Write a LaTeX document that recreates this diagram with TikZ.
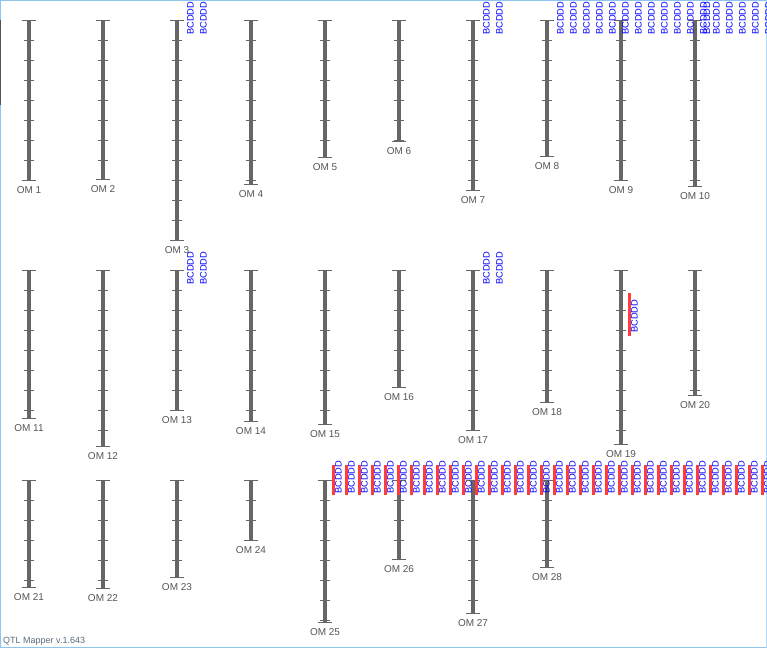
\documentclass[tikz,border=0pt]{standalone}
\usepackage{fontspec}
\setmainfont{Liberation Sans}

\definecolor{chromgray}{HTML}{666666}
\definecolor{textgray}{HTML}{555555}
\definecolor{qtlblue}{HTML}{0000FF}
\definecolor{qtlred}{HTML}{FF3B3B}
\definecolor{framecol}{HTML}{8CC6EE}
\definecolor{mappercol}{HTML}{5B6B7B}

\tikzset{
  chrombar/.style={draw=chromgray, line width=4pt},
  chromcap/.style={draw=chromgray, line width=1pt},
  chromtick/.style={draw=chromgray, line width=1pt},
  omlabel/.style={text=textgray, font=\fontsize{10}{12}\selectfont, inner sep=0pt},
  qtllabel/.style={text=qtlblue, font=\fontsize{9.3}{10}\selectfont, rotate=90, anchor=west, inner sep=0pt},
  qtlbar/.style={draw=qtlred, line width=3pt}
}

% name, text, x, top, bottom
\newcommand{\chrom}[5]{%
  \draw[chrombar] (#3,#4) -- (#3,#5);
  \draw[chromcap] (#3-7,#4) -- (#3+7,#4);
  \draw[chromcap] (#3-7,#5) -- (#3+7,#5);
  \pgfmathtruncatemacro{\nticks}{(#5-#4-1)/20}
  \foreach \k in {1,...,\nticks} \draw[chromtick] (#3-5,#4+20*\k) -- (#3+5,#4+20*\k);
  \node[omlabel] (#1) at (#3,#5+10) {#2};
}

\begin{document}
\begin{tikzpicture}[x=1pt, y=-1pt]
\useasboundingbox (0,0) rectangle (767,648);
\clip (0,0) rectangle (766.5,648);
\draw [framecol, line width=1pt] (0.5,0.5) rectangle (766,647.5);
\draw [textgray, line width=1pt] (0.5,20) -- (0.5,105);

\chrom{om1}{OM 1}{29}{20}{180}
\chrom{om2}{OM 2}{103}{20}{179}
\chrom{om3}{OM 3}{177}{20}{240}
\chrom{om4}{OM 4}{251}{20}{184}
\chrom{om5}{OM 5}{325}{20}{157}
\chrom{om6}{OM 6}{399}{20}{141}
\chrom{om7}{OM 7}{473}{20}{190}
\chrom{om8}{OM 8}{547}{20}{156}
\chrom{om9}{OM 9}{621}{20}{180}
\chrom{om10}{OM 10}{695}{20}{186}

\chrom{om11}{OM 11}{29}{270}{418}
\chrom{om12}{OM 12}{103}{270}{446}
\chrom{om13}{OM 13}{177}{270}{410}
\chrom{om14}{OM 14}{251}{270}{421}
\chrom{om15}{OM 15}{325}{270}{424}
\chrom{om16}{OM 16}{399}{270}{387}
\chrom{om17}{OM 17}{473}{270}{430}
\chrom{om18}{OM 18}{547}{270}{402}
\chrom{om19}{OM 19}{621}{270}{444}
\chrom{om20}{OM 20}{695}{270}{395}

\chrom{om21}{OM 21}{29}{480}{587}
\chrom{om22}{OM 22}{103}{480}{588}
\chrom{om23}{OM 23}{177}{480}{577}
\chrom{om24}{OM 24}{251}{480}{540}
\chrom{om25}{OM 25}{325}{480}{622}
\chrom{om26}{OM 26}{399}{480}{559}
\chrom{om27}{OM 27}{473}{480}{613}
\chrom{om28}{OM 28}{547}{480}{567}

\node[qtllabel] (om3q0) at (190.5,35) {BCDDD};
\node[qtllabel] (om3q1) at (203.5,35) {BCDDD};
\node[qtllabel] (om7q0) at (486.5,35) {BCDDD};
\node[qtllabel] (om7q1) at (499.5,35) {BCDDD};
\foreach \k in {0,...,16} \node[qtllabel] (om8q\k) at (560.5+13*\k,35) {BCDDD};
\node[qtllabel] (om10q0) at (707,35) {BCDDD};

\node[qtllabel] (om13q0) at (190.5,285) {BCDDD};
\node[qtllabel] (om13q1) at (203.5,285) {BCDDD};
\node[qtllabel] (om17q0) at (486.5,285) {BCDDD};
\node[qtllabel] (om17q1) at (499.5,285) {BCDDD};
\draw [qtlbar] (629,293) -- (629,336);
\node[qtllabel] (om19q0) at (634.5,333) {BCDDD};

\foreach \k in {0,...,33} {
  \draw [qtlbar] (333+13*\k,465) -- (333+13*\k,495);
  \node[qtllabel] (om25q\k) at (338.5+13*\k,494) {BCDDD};
}

\node[text=mappercol, font=\fontsize{9}{10}\selectfont, anchor=west, inner sep=0pt] (mapper) at (3,641) {QTL Mapper v.1.643};
\end{tikzpicture}
\end{document}
